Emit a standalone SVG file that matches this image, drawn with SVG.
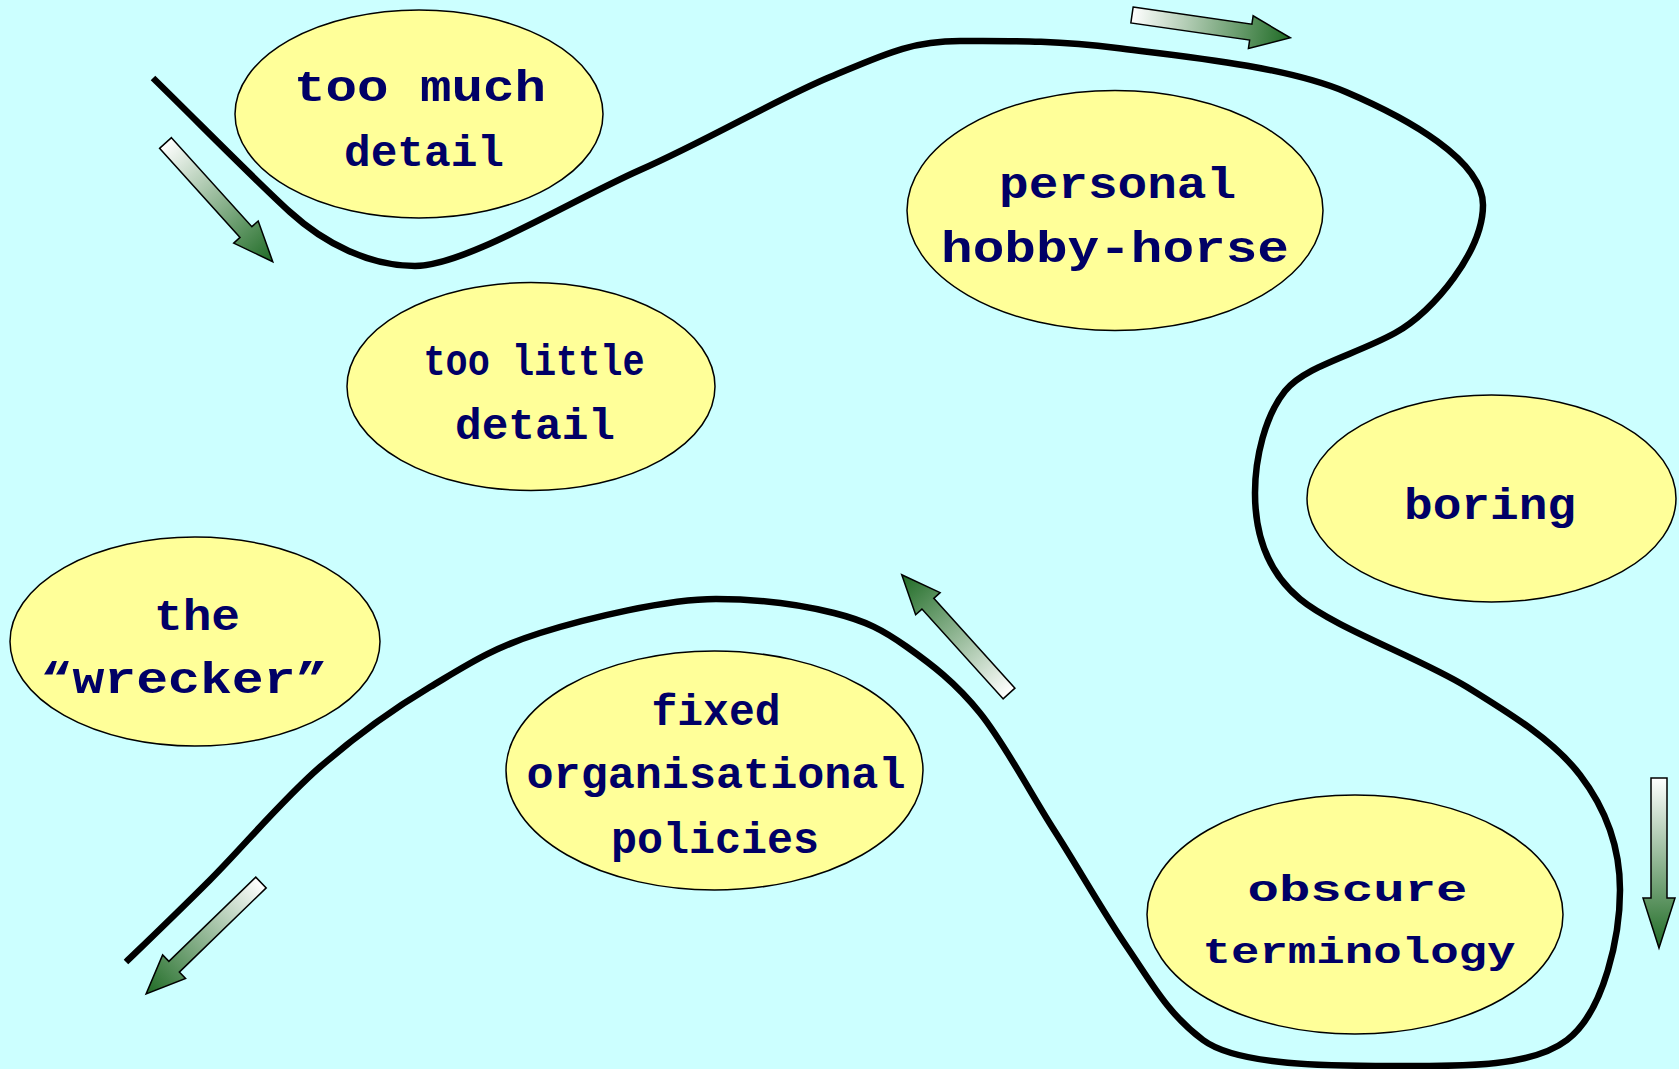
<svg xmlns="http://www.w3.org/2000/svg" width="1679" height="1069" viewBox="0 0 1679 1069">
<defs>
<linearGradient id="ag" x1="0" y1="0" x2="1" y2="0">
<stop offset="0" stop-color="#ffffff"/>
<stop offset="1" stop-color="#1f6b25"/>
</linearGradient>
<style>
.node ellipse{fill:#ffff99;stroke:#000;stroke-width:1.5}
.node text{font-family:"Liberation Mono","Courier New",monospace;font-weight:bold;font-size:44px;fill:#000066;text-anchor:middle}
.node text.s{font-size:37px}
.road{fill:none;stroke:#000;stroke-width:6.5;stroke-linecap:butt;stroke-linejoin:round}
.arr{fill:url(#ag);stroke:#000;stroke-width:1.5;stroke-linejoin:miter}
</style>
</defs>
<rect width="1679" height="1069" fill="#ccffff"/>
<g id="connectors">
<path class="road" d="M153,78 C200,124 255,180 290,212 C325,244 370,266 415,266 C465,266 570,201 640,170 C710,139 777,99 830,77 C883,55 910,41 960,41 C1010,41 1053,40 1117,48 C1181,56 1285,66 1346,92 C1407,118 1483,160 1483,205 C1483,250 1435,311 1395,333 C1355,355 1305,366 1285,391 C1265,416 1255,458 1255,493 C1255,531 1265,570 1300,599 C1335,628 1420,658 1467,687 C1514,716 1554,741 1580,775 C1606,809 1620,846 1620,890 C1620,934 1605,1011 1567,1040 C1529,1069 1453,1066 1392,1066 C1331,1066 1238,1066 1203,1040 C1168,1014 1151,982 1127,947 C1103,912 1079,869 1054,830 C1029,791 1005,744 980,713 C955,682 931,664 907,647 C883,630 866,621 834,613 C802,605 765,599 716,599 C667,599 588,618 540,633 C492,648 467,665 430,687 C393,709 357,735 320,767 C283,799 242,848 210,880 C178,912 154,935 126,962"/>
<polygon class="arr" transform="translate(165.5,143) rotate(47.9)" points="0,-8 120,-8 120,-16.5 160,0 120,16.5 120,8 0,8"/>
<polygon class="arr" transform="translate(1132,15) rotate(8.2)" points="0,-8 120,-8 120,-16.5 160,0 120,16.5 120,8 0,8"/>
<polygon class="arr" transform="translate(1659,778) rotate(90)" points="0,-8 120,-8 120,-16 170,0 120,16 120,8 0,8"/>
<polygon class="arr" transform="translate(261,882.5) rotate(135.9)" points="0,-7.5 121,-7.5 121,-16.5 160,0 121,16.5 121,7.5 0,7.5"/>
<polygon class="arr" transform="translate(1009,693.5) rotate(-132.1)" points="0,-8 121,-8 121,-16.5 160,0 121,16.5 121,8 0,8"/>
</g>
<g id="too-much-detail" class="node">
<ellipse cx="419" cy="114" rx="184" ry="104"/>
<text x="420" y="101" textLength="252" lengthAdjust="spacingAndGlyphs">too much</text>
<text x="424" y="166" textLength="160" lengthAdjust="spacingAndGlyphs">detail</text>
</g>
<g id="personal-hobby-horse" class="node">
<ellipse cx="1115" cy="210.5" rx="208" ry="120"/>
<text x="1117.5" y="198" textLength="237" lengthAdjust="spacingAndGlyphs">personal</text>
<text x="1115" y="262" textLength="348" lengthAdjust="spacingAndGlyphs">hobby-horse</text>
</g>
<g id="too-little-detail" class="node">
<ellipse cx="531" cy="386.5" rx="184" ry="104"/>
<text x="534" y="375" textLength="221" lengthAdjust="spacingAndGlyphs">too little</text>
<text x="535" y="439" textLength="160" lengthAdjust="spacingAndGlyphs">detail</text>
</g>
<g id="boring" class="node">
<ellipse cx="1491.5" cy="498.5" rx="184.5" ry="103.5"/>
<text x="1490" y="519" textLength="172" lengthAdjust="spacingAndGlyphs">boring</text>
</g>
<g id="the-wrecker" class="node">
<ellipse cx="195" cy="641.5" rx="185" ry="104.5"/>
<text x="197" y="630" textLength="86" lengthAdjust="spacingAndGlyphs">the</text>
<text x="184" y="693" textLength="287" lengthAdjust="spacingAndGlyphs">“wrecker”</text>
</g>
<g id="fixed-organisational-policies" class="node">
<ellipse cx="714.5" cy="770.5" rx="208.5" ry="119.5"/>
<text x="716" y="725" textLength="129" lengthAdjust="spacingAndGlyphs">fixed</text>
<text x="716" y="788" textLength="379" lengthAdjust="spacingAndGlyphs">organisational</text>
<text x="715" y="853" textLength="208" lengthAdjust="spacingAndGlyphs">policies</text>
</g>
<g id="obscure-terminology" class="node">
<ellipse cx="1355" cy="914.5" rx="208" ry="119.5"/>
<text class="s" x="1357.5" y="901" textLength="220" lengthAdjust="spacingAndGlyphs">obscure</text>
<text class="s" x="1359" y="963" textLength="313" lengthAdjust="spacingAndGlyphs">terminology</text>
</g>
</svg>
